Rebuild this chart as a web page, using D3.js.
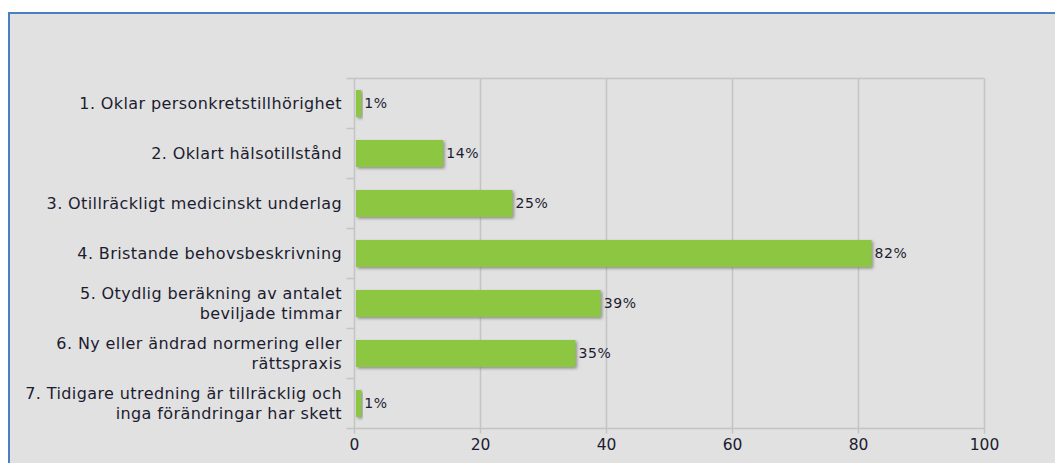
<!DOCTYPE html>
<html>
<head>
<meta charset="utf-8">
<script src="https://cdn.jsdelivr.net/npm/d3@7/dist/d3.min.js"></script>
<style>
  html, body { margin: 0; padding: 0; background: #fff; }
  svg { display: block; }
  text { font-family: Verdana, "DejaVu Sans", sans-serif; }
</style>
</head>
<body>
<svg id="chart" width="1055" height="463"></svg>
<script>
// Reasons (multi-line labels) and share of cases in percent
const categories = [
  ["1. Oklar personkretstillhörighet"],
  ["2. Oklart hälsotillstånd"],
  ["3. Otillräckligt medicinskt underlag"],
  ["4. Bristande behovsbeskrivning"],
  ["5. Otydlig beräkning av antalet", "beviljade timmar"],
  ["6. Ny eller ändrad normering eller", "rättspraxis"],
  ["7. Tidigare utredning är tillräcklig och", "inga förändringar har skett"]
];
const values = [1, 14, 25, 82, 39, 35, 1];
const xTicks = [0, 20, 40, 60, 80, 100];

const svg = d3.select("#chart");
const W = 1055, H = 463;
const ink = "#1c1c30";

// Panel background and frame
svg.append("rect").attr("x", 8).attr("y", 12).attr("width", W - 8).attr("height", H - 12)
  .attr("fill", "#e1e1e1");
svg.append("line").attr("x1", 8).attr("x2", W).attr("y1", 13).attr("y2", 13)
  .attr("stroke", "#4a7fc1").attr("stroke-width", 2);
svg.append("line").attr("x1", 9).attr("x2", 9).attr("y1", 12).attr("y2", H)
  .attr("stroke", "#4a7fc1").attr("stroke-width", 2);

const plotLeft = 354.5, plotRight = 984.5, plotTop = 78.5, plotBottom = 428.5;
const ids = categories.map((c, i) => i);

const x = d3.scaleLinear().domain([0, 100]).range([plotLeft, plotRight]);
const y = d3.scaleBand().domain(ids).range([plotTop, plotBottom]).paddingInner(0.46).paddingOuter(0.23);
const yTicks = d3.scaleBand().domain(ids).range([plotTop, plotBottom]);

const defs = svg.append("defs");
const f = defs.append("filter").attr("id", "shadow")
  .attr("x", "-20%").attr("y", "-40%").attr("width", "140%").attr("height", "200%");
f.append("feDropShadow").attr("dx", 1.5).attr("dy", 1.5).attr("stdDeviation", 1.5)
  .attr("flood-color", "#777").attr("flood-opacity", 0.8);

// Vertical gridlines
svg.append("g").selectAll("line").data(xTicks).join("line")
  .attr("x1", d => x(d)).attr("x2", d => x(d))
  .attr("y1", plotTop).attr("y2", plotBottom + 5)
  .attr("stroke", "#c4c4c4").attr("stroke-width", 1.5);

// Top frame line of the plot
svg.append("line").attr("x1", plotLeft - 8).attr("x2", plotRight).attr("y1", plotTop).attr("y2", plotTop)
  .attr("stroke", "#c4c4c4").attr("stroke-width", 1.5);
// Bottom axis line
svg.append("line").attr("x1", plotLeft - 8).attr("x2", plotRight).attr("y1", plotBottom).attr("y2", plotBottom)
  .attr("stroke", "#c4c4c4").attr("stroke-width", 1.5);

// Category boundary ticks on the left axis
svg.append("g").selectAll("line").data(ids.slice(1)).join("line")
  .attr("x1", plotLeft - 8).attr("x2", plotLeft)
  .attr("y1", d => yTicks(d)).attr("y2", d => yTicks(d))
  .attr("stroke", "#c4c4c4").attr("stroke-width", 1.5);

// Bars
svg.append("g").selectAll("rect").data(values).join("rect")
  .attr("x", x(0) + 1.5)
  .attr("y", (d, i) => y(i))
  .attr("width", d => x(d) - x(0) - 1)
  .attr("height", y.bandwidth())
  .attr("fill", "#8dc63f")
  .attr("filter", "url(#shadow)");

// Value labels
svg.append("g").selectAll("text").data(values).join("text")
  .attr("x", d => x(d) + 3.5)
  .attr("y", (d, i) => y(i) + y.bandwidth() / 2)
  .attr("dy", "0.35em")
  .attr("font-size", 14)
  .attr("letter-spacing", 0.6)
  .attr("fill", ink)
  .text(d => d + "%");

// Category labels
const lineH = 19.5;
const lab = svg.append("g").selectAll("text").data(categories).join("text")
  .attr("text-anchor", "end")
  .attr("font-size", 16)
  .attr("letter-spacing", 0.4)
  .attr("fill", ink)
  .attr("y", (d, i) => yTicks(i) + yTicks.bandwidth() / 2);
lab.each(function (lines) {
  const t = d3.select(this);
  const n = lines.length;
  lines.forEach((s, k) => {
    t.append("tspan").attr("x", 342)
      .attr("dy", k === 0 ? (5.5 - (n - 1) * lineH / 2) : lineH)
      .text(s);
  });
});

// X tick labels
svg.append("g").selectAll("text").data(xTicks).join("text")
  .attr("x", d => x(d)).attr("y", 445).attr("dy", "0.35em")
  .attr("text-anchor", "middle").attr("font-size", 15.5)
  .attr("fill", ink)
  .text(d => d);
</script>
</body>
</html>
